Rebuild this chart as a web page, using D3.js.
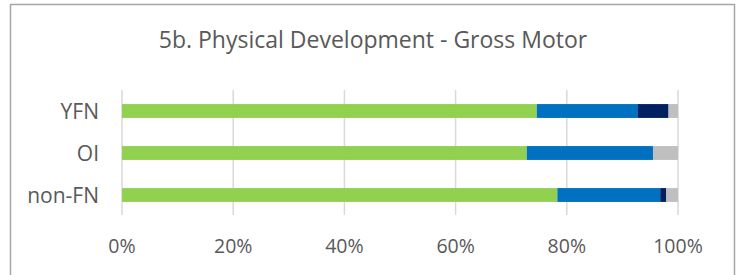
<!DOCTYPE html>
<html>
<head>
<meta charset="utf-8">
<script src="https://cdn.jsdelivr.net/npm/d3@7"></script>
<style>
  body { margin: 0; background: #fff; }
  text { font-family: "Open Sans", "Noto Sans", sans-serif; fill: #595959; }
</style>
</head>
<body>
<div id="chart"></div>
<script>
// categories top to bottom
const categories = ["YFN", "OI", "non-FN"];
// stacked shares (percent)
const seriesNames = ["s1", "s2", "s3", "s4"];
const s1 = [74.6, 72.8, 78.3];
const s2 = [18.2, 22.7, 18.5];
const s3 = [5.5, 0, 1.1];
const s4 = [1.7, 4.5, 2.1];
const tickValues = [0, 20, 40, 60, 80, 100];
const colors = ["#92d050", "#0070c0", "#002060", "#bfbfbf"];

const width = 742, height = 275;
const margin = {left: 122, right: 64, top: 90, bottom: 60};

const svg = d3.select("#chart").append("svg")
    .attr("width", width)
    .attr("height", height);

// chart frame (bottom edge is cut off in the picture)
svg.append("path")
    .attr("d", "M10.5," + height + "V4.5H734.5V" + height)
    .attr("fill", "none")
    .attr("stroke", "#a6a6a6")
    .attr("stroke-width", 1.5);

svg.append("text")
    .attr("x", 373)
    .attr("y", 48)
    .attr("text-anchor", "middle")
    .attr("font-size", 23)
    .text("5b. Physical Development - Gross Motor");

let x = d3.scaleLinear().domain([0, 100]).range([margin.left, 678]);
let y = d3.scaleBand().domain(categories).range([90, 216]).paddingInner(0.67).paddingOuter(0.335);

// gridlines
svg.append("g")
    .selectAll("line")
    .data(tickValues)
    .enter().append("line")
    .attr("x1", d => x(d))
    .attr("x2", d => x(d))
    .attr("y1", 90)
    .attr("y2", 215)
    .attr("stroke", "#d9d9d9")
    .attr("stroke-width", 1.5);

let rows = categories.map((c, i) => ({cat: c, s1: s1[i], s2: s2[i], s3: s3[i], s4: s4[i]}));
let stack = d3.stack().keys(seriesNames)(rows);

svg.append("g")
    .selectAll("g")
    .data(stack)
    .enter().append("g")
    .attr("fill", (d, i) => colors[i])
    .selectAll("rect")
    .data(d => d)
    .enter().append("rect")
    .attr("x", d => x(d[0]))
    .attr("width", d => x(d[1]) - x(d[0]))
    .attr("y", d => y(d.data.cat))
    .attr("height", y.bandwidth());

// category labels
svg.append("g")
    .selectAll("text")
    .data(categories)
    .enter().append("text")
    .attr("x", 99)
    .attr("y", d => y(d) + y.bandwidth() / 2)
    .attr("dy", "0.36em")
    .attr("text-anchor", "end")
    .attr("font-size", 21)
    .text(d => d);

// x tick labels
svg.append("g")
    .selectAll("text")
    .data(tickValues)
    .enter().append("text")
    .attr("x", d => x(d))
    .attr("y", 253)
    .attr("text-anchor", "middle")
    .attr("font-size", 19.5)
    .text(d => d + "%");
</script>
</body>
</html>
